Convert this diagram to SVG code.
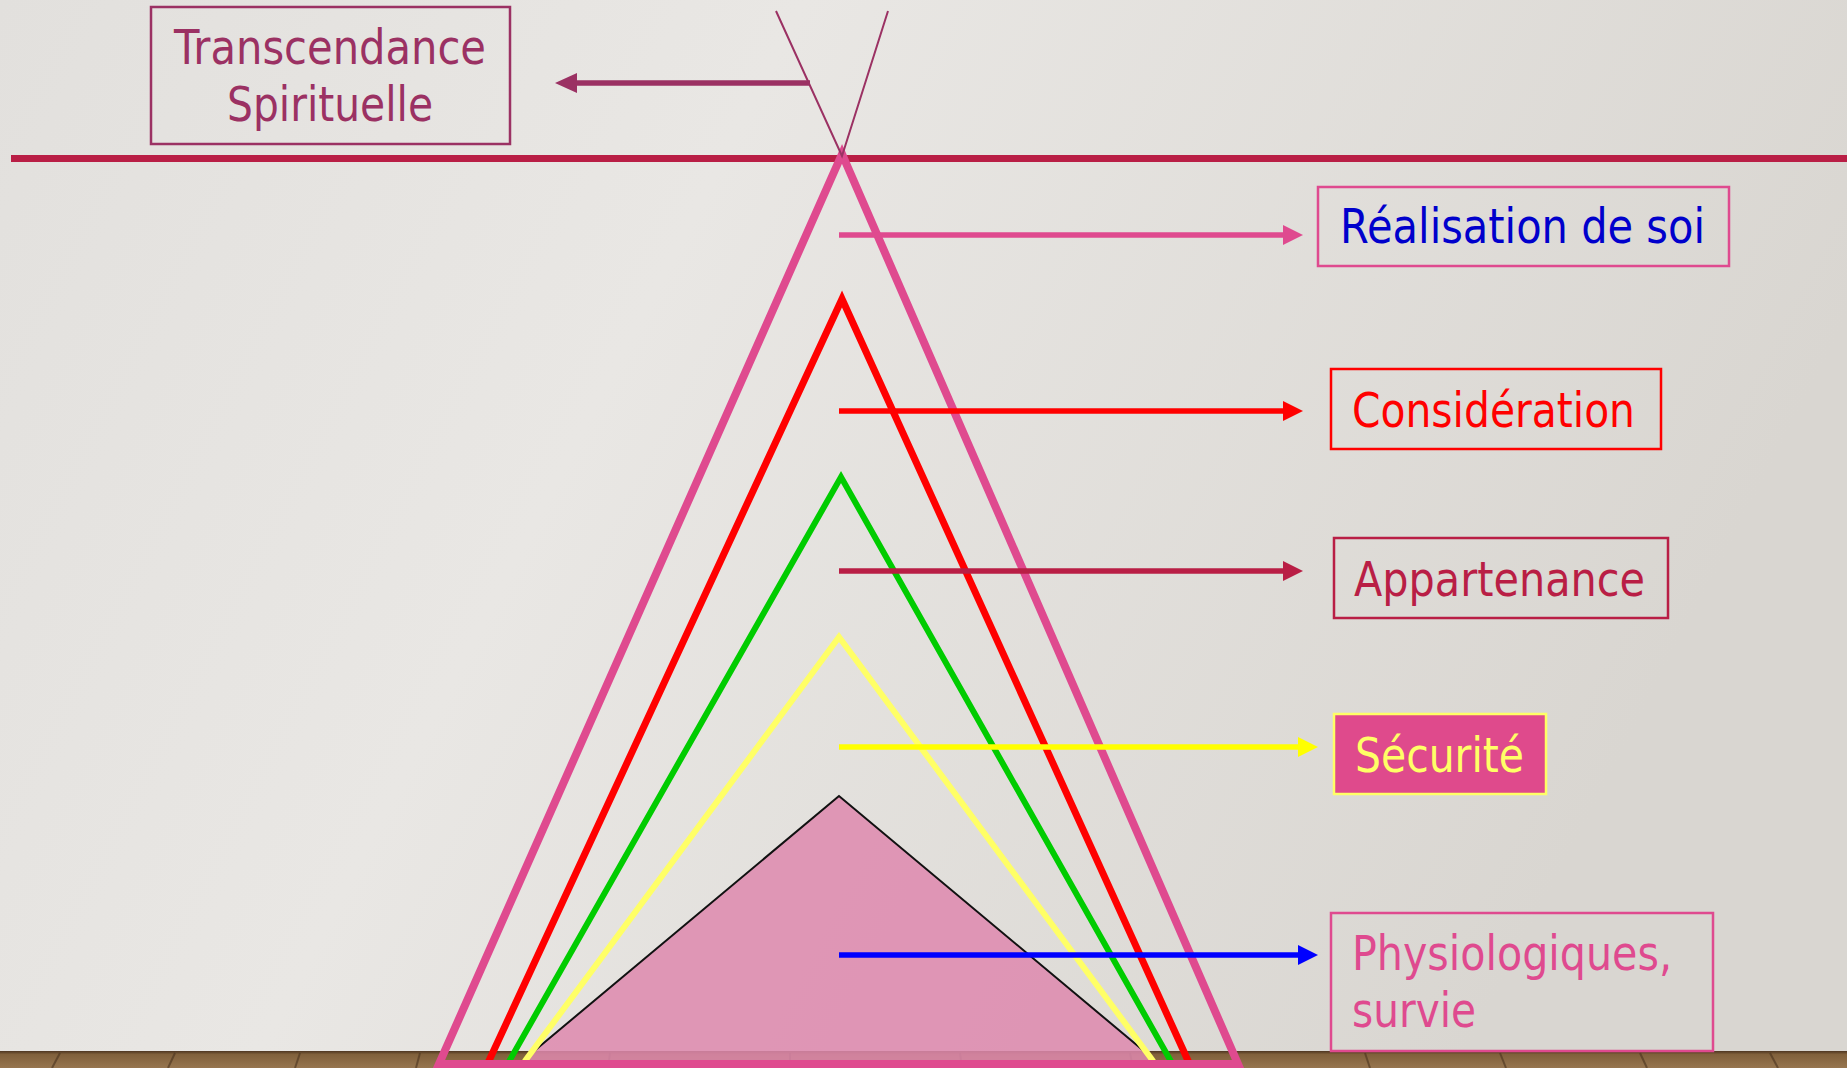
<svg xmlns="http://www.w3.org/2000/svg" width="1847" height="1068" viewBox="0 0 1847 1068">
<defs>
<linearGradient id="bg" x1="0" y1="0" x2="1" y2="0.3">
<stop offset="0" stop-color="#E2E0DD"/>
<stop offset="0.4" stop-color="#E9E7E4"/>
<stop offset="1" stop-color="#D9D6D1"/>
</linearGradient>
<linearGradient id="floor" x1="0" y1="0" x2="0" y2="1">
<stop offset="0" stop-color="#4E3621"/>
<stop offset="0.2" stop-color="#80603B"/>
<stop offset="1" stop-color="#977650"/>
</linearGradient>
<marker id="hPink" markerUnits="userSpaceOnUse" markerWidth="20" markerHeight="20" refX="10" refY="10" orient="auto"><path d="M0,0 L20,10 L0,20 z" fill="#DF4A8F"/></marker>
<marker id="hRed" markerUnits="userSpaceOnUse" markerWidth="20" markerHeight="20" refX="10" refY="10" orient="auto"><path d="M0,0 L20,10 L0,20 z" fill="#FF0000"/></marker>
<marker id="hCrim" markerUnits="userSpaceOnUse" markerWidth="20" markerHeight="20" refX="10" refY="10" orient="auto"><path d="M0,0 L20,10 L0,20 z" fill="#B91E45"/></marker>
<marker id="hYel" markerUnits="userSpaceOnUse" markerWidth="20" markerHeight="20" refX="10" refY="10" orient="auto"><path d="M0,0 L20,10 L0,20 z" fill="#FFFF00"/></marker>
<marker id="hBlue" markerUnits="userSpaceOnUse" markerWidth="20" markerHeight="20" refX="10" refY="10" orient="auto"><path d="M0,0 L20,10 L0,20 z" fill="#0000FF"/></marker>
<marker id="hPurp" markerUnits="userSpaceOnUse" markerWidth="22" markerHeight="20" refX="11" refY="10" orient="auto"><path d="M0,0 L22,10 L0,20 z" fill="#9B3163"/></marker>
</defs>
<style>
.lbl{font-family:"DejaVu Sans",Verdana,sans-serif;font-size:48px;}
.box{fill:none;stroke-width:2.5;}
.leg{fill:none;stroke-linejoin:miter;}
.arr{fill:none;stroke-width:5.5;}
</style>
<rect x="0" y="0" width="1847" height="1068" fill="url(#bg)"/>
<g id="floor-band">
<rect x="0" y="1051" width="1847" height="17" fill="url(#floor)"/>
<g stroke="#4A331E" stroke-width="2" opacity="0.6">
<line x1="60" y1="1053" x2="52" y2="1068"/><line x1="175" y1="1053" x2="168" y2="1068"/><line x1="300" y1="1053" x2="295" y2="1068"/>
<line x1="420" y1="1053" x2="416" y2="1068"/><line x1="610" y1="1053" x2="608" y2="1068"/><line x1="790" y1="1053" x2="790" y2="1068"/>
<line x1="960" y1="1053" x2="962" y2="1068"/><line x1="1130" y1="1053" x2="1133" y2="1068"/><line x1="1365" y1="1053" x2="1370" y2="1068"/>
<line x1="1500" y1="1053" x2="1506" y2="1068"/><line x1="1640" y1="1053" x2="1647" y2="1068"/><line x1="1770" y1="1053" x2="1778" y2="1068"/>
</g>
</g>
<g id="pyramid">
<polygon id="base-triangle" points="839,796 515,1067 1163,1067" fill="#DE88AE" fill-opacity="0.85" stroke="#111" stroke-width="2"/>
<polyline class="leg" points="522,1065 839,637 1156,1065" stroke="#FFFF66" stroke-width="6"/>
<polyline class="leg" points="507,1065 841,477 1173,1065" stroke="#00CC00" stroke-width="6"/>
<polyline class="leg" points="487,1065 842,299 1190,1065" stroke="#FF0000" stroke-width="7"/>
<line x1="11" y1="158.5" x2="1847" y2="158.5" stroke="#B91E45" stroke-width="7"/>
<polygon class="leg" points="842,154 439,1064 1238,1064" stroke="#DF4A8F" stroke-width="8"/>
<polyline fill="none" points="776,11 842,156 888,11" stroke="#9B3163" stroke-width="2"/>
</g>
<g id="connectors">
<line class="arr" x1="810" y1="83" x2="566" y2="83" stroke="#9B3163" stroke-width="6.5" marker-end="url(#hPurp)"/>
<line class="arr" x1="839" y1="235" x2="1293" y2="235" stroke="#DF4A8F" marker-end="url(#hPink)"/>
<line class="arr" x1="839" y1="411" x2="1293" y2="411" stroke="#FF0000" marker-end="url(#hRed)"/>
<line class="arr" x1="839" y1="571" x2="1293" y2="571" stroke="#B91E45" marker-end="url(#hCrim)"/>
<line class="arr" x1="839" y1="747" x2="1308" y2="747" stroke="#FFFF00" marker-end="url(#hYel)"/>
<line class="arr" x1="839" y1="955" x2="1308" y2="955" stroke="#0000FF" marker-end="url(#hBlue)"/>
</g>
<g id="node-transcendance">
<rect class="box" x="151" y="7" width="359" height="137" stroke="#9B3163"/>
<text class="lbl" x="330" y="64" text-anchor="middle" fill="#9B3163" textLength="312" lengthAdjust="spacingAndGlyphs">Transcendance</text>
<text class="lbl" x="330" y="121" text-anchor="middle" fill="#9B3163" textLength="206" lengthAdjust="spacingAndGlyphs">Spirituelle</text>
</g>
<g id="node-realisation">
<rect class="box" x="1318" y="187" width="411" height="79" stroke="#DF4A8F"/>
<text class="lbl" x="1340" y="243" fill="#0000CC" textLength="365" lengthAdjust="spacingAndGlyphs">Réalisation de soi</text>
</g>
<g id="node-consideration">
<rect class="box" x="1331" y="369" width="330" height="80" stroke="#FF0000"/>
<text class="lbl" x="1352" y="427" fill="#FF0000" textLength="283" lengthAdjust="spacingAndGlyphs">Considération</text>
</g>
<g id="node-appartenance">
<rect class="box" x="1334" y="538" width="334" height="80" stroke="#B91E45"/>
<text class="lbl" x="1354" y="596" fill="#B91E45" textLength="291" lengthAdjust="spacingAndGlyphs">Appartenance</text>
</g>
<g id="node-securite">
<rect x="1334" y="714" width="212" height="80" fill="#DF4A8C" stroke="#FFFF66" stroke-width="2.5"/>
<text class="lbl" x="1355" y="772" fill="#FFFF66" textLength="169" lengthAdjust="spacingAndGlyphs">Sécurité</text>
</g>
<g id="node-physiologiques">
<rect class="box" x="1331" y="913" width="382" height="138" stroke="#DF4A8F"/>
<text class="lbl" x="1352" y="970" fill="#DF4A8F" textLength="320" lengthAdjust="spacingAndGlyphs">Physiologiques,</text>
<text class="lbl" x="1352" y="1027" fill="#DF4A8F" textLength="124" lengthAdjust="spacingAndGlyphs">survie</text>
</g>
</svg>
